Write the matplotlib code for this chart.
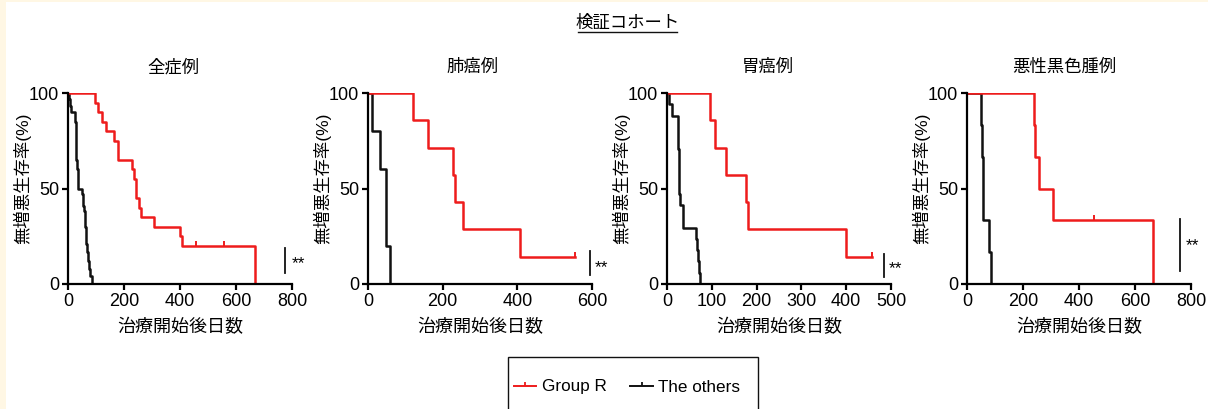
import matplotlib
matplotlib.use('Agg')
import matplotlib.pyplot as plt
from matplotlib.path import Path
from matplotlib.lines import Line2D
from matplotlib.patches import Rectangle

plt.rcParams['font.family'] = ['Liberation Sans', 'Noto Sans CJK JP', 'DejaVu Sans']

# ---- data: Kaplan-Meier steps (days, % progression-free) ----
panel_titles = ['全症例', '肺癌例', '胃癌例', '悪性黒色腫例']
x_limits = [800, 600, 500, 800]
x_steps = [200, 200, 100, 200]

all_r_days = [0, 96, 108, 122, 134, 164, 180, 230, 236, 244, 254, 260, 308, 400, 406, 668]
all_r_surv = [100, 95, 90, 85, 80, 75, 65, 60, 55, 45, 40, 35, 30, 25, 20, 0]
all_r_cens = [457, 557]
all_r_cens_surv = [20, 20]
all_k_days = [0, 2, 6, 9, 26, 27, 28, 29, 30, 32, 34, 36, 50, 52, 54, 57, 60, 62, 64, 66, 69, 72, 75, 80, 85]
all_k_surv = [100, 97, 93, 90, 85, 80, 75, 70, 65, 60, 55, 50, 47, 44, 41, 38, 34, 30, 25, 21, 17, 12, 8, 4, 0]

lung_r_days = [0, 121, 160, 228, 233, 254, 407, 555]
lung_r_surv = [100, 85.7, 71.4, 57.1, 42.9, 28.6, 14.3, 14.3]
lung_r_cens = [555]
lung_r_cens_surv = [14.3]
lung_k_days = [0, 11, 33, 47, 58]
lung_k_surv = [100, 80, 60, 20, 0]

gast_r_days = [0, 96, 107, 131, 176, 180, 400, 457]
gast_r_surv = [100, 85.7, 71.4, 57.1, 42.9, 28.6, 14.3, 14.3]
gast_r_cens = [457]
gast_r_cens_surv = [14.3]
gast_k_days = [0, 4, 11, 24.5, 25, 25.5, 26, 26.5, 27, 27.5, 28, 35.5, 36.5, 65, 68, 69.5, 71, 74]
gast_k_surv = [100, 94.1, 88.2, 82.4, 76.5, 70.6, 64.7, 58.8, 52.9, 47.1, 41.2, 35.3, 29.4, 23.5, 17.6, 11.8, 5.9, 0]

mel_r_days = [0, 241, 244, 256, 306, 665]
mel_r_surv = [100, 83.3, 66.7, 50, 33.3, 0]
mel_r_cens = [454]
mel_r_cens_surv = [33.3]
mel_k_days = [0, 49, 52, 56, 58, 78, 84]
mel_k_surv = [100, 83.3, 66.7, 50, 33.3, 16.7, 0]

red_curves = [(all_r_days, all_r_surv, all_r_cens, all_r_cens_surv),
              (lung_r_days, lung_r_surv, lung_r_cens, lung_r_cens_surv),
              (gast_r_days, gast_r_surv, gast_r_cens, gast_r_cens_surv),
              (mel_r_days, mel_r_surv, mel_r_cens, mel_r_cens_surv)]
black_curves = [(all_k_days, all_k_surv), (lung_k_days, lung_k_surv),
                (gast_k_days, gast_k_surv), (mel_k_days, mel_k_surv)]

# significance bar: x, y from, y to, text x, text y (data units)
sig_marks = [(775, 6, 19, 798, 10.5), (595, 4.7, 17.3, 606, 8.4),
             (484, 3.7, 15.7, 494, 8), (761, 6.8, 34, 782, 20)]

RED = '#ee1c1c'
BLACK = '#111111'
W, H = 1208, 409
tick_up = Path([(0, 0), (0, 1)])

fig = plt.figure(figsize=(W / 100, H / 100), dpi=100, facecolor='#fff7e4')
fig.patches.append(Rectangle((6 / W, 0), 1 - 6 / W, 1 - 2 / H, transform=fig.transFigure,
                             facecolor='white', edgecolor='none', zorder=-10))

ax_left = [68, 368, 667, 967]
title_x = [173, 473, 768, 1064]
for i in range(4):
    ax = fig.add_axes([ax_left[i] / W, 1 - 284 / H, 224 / W, 191 / H])
    ax.set_facecolor('none')
    kd, ks = black_curves[i]
    ax.step(kd, ks, where='post', color=BLACK, lw=1.8)
    rd, rs, rc, rcs = red_curves[i]
    ax.step(rd, rs, where='post', color=RED, lw=1.8)
    ax.plot(rc, rcs, linestyle='none', marker=tick_up, markersize=7,
            markeredgewidth=1.4, color=RED)

    ax.set_xlim(0, x_limits[i])
    ax.set_ylim(0, 100)
    ax.set_xticks(range(0, x_limits[i] + 1, x_steps[i]))
    ax.set_yticks([0, 50, 100])
    for s in ['top', 'right']:
        ax.spines[s].set_visible(False)
    for s in ['left', 'bottom']:
        ax.spines[s].set_linewidth(1.6)
    ax.tick_params(length=4, width=1.6, labelsize=13, pad=2.5)

    ax.set_ylabel('無増悪生存率(%)', fontsize=12.5)
    ax.yaxis.set_label_coords(-0.165, 0.555)
    ax.set_xlabel('治療開始後日数', fontsize=13)
    ax.xaxis.set_label_coords(0.5, -0.225)
    ax.xaxis.label.set_va('center')

    lx, y0, y1, tx, ty = sig_marks[i]
    ax.plot([lx, lx], [y0, y1], color=BLACK, lw=1.3, clip_on=False)
    ax.text(tx, ty, '**', fontsize=12.5, ha='left', va='center', clip_on=False)

    fig.text(title_x[i] / W, 1 - 67 / H, panel_titles[i], fontsize=12.5,
             ha='center', va='center')

# cohort heading with underline
fig.text(628 / W, 1 - 23 / H, '検証コホート', fontsize=12.5, ha='center', va='center')
fig.add_artist(Line2D([578 / W, 677 / W], [1 - 32 / H, 1 - 32 / H],
                      transform=fig.transFigure, color=BLACK, lw=1))

# legend in a box running off the bottom edge
handles = [Line2D([], [], color=RED, lw=1.4, marker=tick_up, markersize=6, markeredgewidth=1.3),
           Line2D([], [], color=BLACK, lw=1.4, marker=tick_up, markersize=6, markeredgewidth=1.3)]
fig.legend(handles, ['Group R', 'The others'], loc='center', ncol=2, frameon=False,
           bbox_to_anchor=(627 / W, 1 - 387 / H), fontsize=12.3, handlelength=1.3,
           handletextpad=0.3, columnspacing=1.4, numpoints=1)
fig.patches.append(Rectangle((508 / W, -0.02), 250 / W, 0.02 + 1 - 357 / H,
                             transform=fig.transFigure, facecolor='none',
                             edgecolor=BLACK, lw=1))

fig.savefig('out.png', dpi=100, facecolor=fig.get_facecolor())
